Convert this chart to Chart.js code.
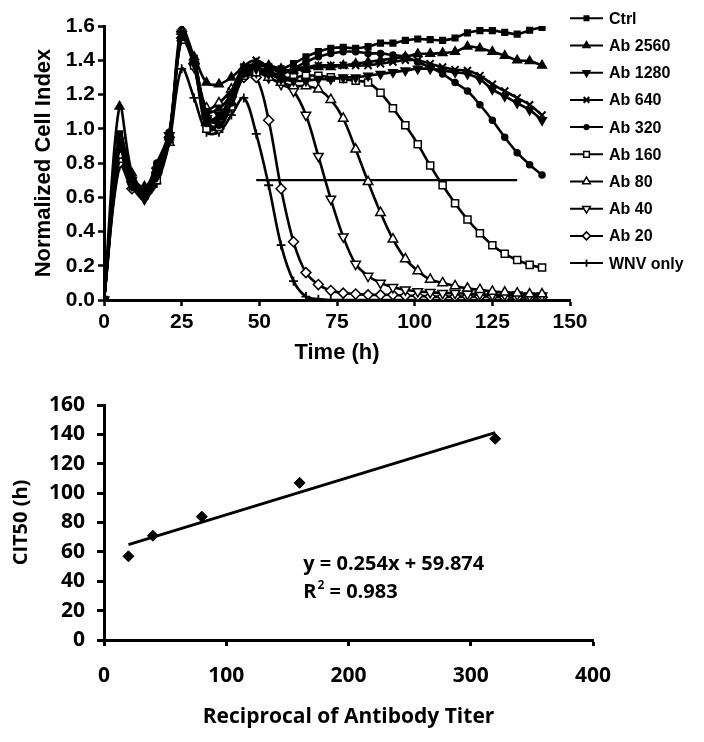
<!DOCTYPE html>
<html>
<head>
<meta charset="utf-8">
<title>Cell index and CIT50</title>
<script src="https://cdn.jsdelivr.net/npm/chart.js@4.4.1/dist/chart.umd.min.js"></script>
<style>
  html, body { margin: 0; padding: 0; background: #fff; }
  #wrap { position: relative; width: 704px; height: 742px; }
  #topChart { position: absolute; left: 0; top: 0; }
  #bottomChart { position: absolute; left: 0; top: 380px; }
</style>
</head>
<body>
<div id="wrap">
  <canvas id="topChart" width="704" height="370"></canvas>
  <canvas id="bottomChart" width="704" height="362"></canvas>
</div>
<script>
// --- top panel: normalized cell index over time ---
const hours = [0, 5, 9, 13, 17, 21, 25, 29, 33, 37, 41, 45, 49, 53, 57, 61, 65, 69, 73, 77,
  81, 85, 89, 93, 97, 101, 105, 109, 113, 117, 121, 125, 129, 133, 137, 141];

const ctrl = [0, 0.97, 0.72, 0.63, 0.78, 0.97, 1.55, 1.40, 1.10, 1.12, 1.20, 1.35, 1.37,
  1.36, 1.35, 1.38, 1.42, 1.45, 1.47, 1.475, 1.47, 1.48, 1.50, 1.50, 1.516, 1.524, 1.52,
  1.516, 1.53, 1.56, 1.573, 1.573, 1.563, 1.553, 1.575, 1.592];
const ab2560 = [0, 1.13, 0.74, 0.65, 0.75, 0.95, 1.53, 1.42, 1.27, 1.26, 1.30, 1.36, 1.38,
  1.37, 1.35, 1.34, 1.35, 1.36, 1.36, 1.37, 1.38, 1.39, 1.40, 1.41, 1.42, 1.437, 1.438,
  1.443, 1.449, 1.48, 1.47, 1.45, 1.427, 1.40, 1.395, 1.37];
const ab1280 = [0, 0.93, 0.70, 0.60, 0.72, 0.93, 1.56, 1.38, 1.05, 1.08, 1.18, 1.33, 1.35,
  1.32, 1.29, 1.28, 1.28, 1.29, 1.29, 1.30, 1.30, 1.31, 1.32, 1.33, 1.34, 1.35, 1.35,
  1.34, 1.33, 1.32, 1.29, 1.23, 1.19, 1.15, 1.11, 1.05];
const ab640 = [0, 0.90, 0.68, 0.62, 0.74, 0.96, 1.60, 1.41, 1.08, 1.05, 1.22, 1.36, 1.40,
  1.36, 1.33, 1.35, 1.36, 1.37, 1.37, 1.37, 1.37, 1.37, 1.38, 1.39, 1.40, 1.40, 1.38,
  1.36, 1.345, 1.34, 1.31, 1.26, 1.22, 1.18, 1.14, 1.08];
const ab320 = [0, 0.88, 0.66, 0.64, 0.80, 0.98, 1.54, 1.39, 1.03, 1.02, 1.15, 1.32, 1.36,
  1.33, 1.32, 1.35, 1.39, 1.42, 1.44, 1.45, 1.45, 1.44, 1.44, 1.43, 1.42, 1.39, 1.36,
  1.32, 1.27, 1.22, 1.14, 1.05, 0.95, 0.86, 0.79, 0.73];
const ab160 = [0, 0.85, 0.69, 0.61, 0.70, 0.94, 1.52, 1.37, 1.00, 1.01, 1.13, 1.31, 1.33,
  1.33, 1.30, 1.30, 1.31, 1.31, 1.30, 1.29, 1.28, 1.27, 1.21, 1.12, 1.02, 0.91, 0.785,
  0.67, 0.565, 0.47, 0.39, 0.32, 0.27, 0.234, 0.205, 0.19];
const ab80 = [0, 0.82, 0.71, 0.66, 0.76, 0.92, 1.57, 1.40, 1.12, 1.15, 1.23, 1.34, 1.36,
  1.30, 1.27, 1.25, 1.25, 1.23, 1.17, 1.06, 0.88, 0.69, 0.51, 0.355, 0.24, 0.17, 0.12,
  0.10, 0.082, 0.068, 0.06, 0.05, 0.045, 0.04, 0.035, 0.035];
const ab40 = [0, 0.86, 0.67, 0.59, 0.73, 0.96, 1.55, 1.36, 1.06, 1.04, 1.17, 1.33, 1.33,
  1.30, 1.26, 1.22, 1.08, 0.84, 0.59, 0.37, 0.21, 0.14, 0.10, 0.074, 0.06, 0.05, 0.045,
  0.04, 0.04, 0.035, 0.035, 0.03, 0.03, 0.03, 0.025, 0.025];
const ab20 = [0, 0.80, 0.65, 0.62, 0.77, 0.95, 1.53, 1.38, 1.02, 1.00, 1.14, 1.30, 1.30,
  1.05, 0.65, 0.34, 0.16, 0.09, 0.055, 0.04, 0.035, 0.03, 0.03, 0.03, 0.025, 0.025, 0.02,
  0.02, 0.02, 0.02, 0.02, 0.02, 0.015, 0.015, 0.015, 0.015];
const wnvOnly = [0, 0.78, 0.68, 0.60, 0.68, 0.92, 1.35, 1.18, 0.98, 0.98, 1.08, 1.18, 0.97,
  0.67, 0.32, 0.11, 0.02, 0.005, 0, 0, 0, 0, 0, 0, 0, 0, 0, 0, 0, 0, 0, 0, 0, 0, 0, 0];

// 50% cell index reference line
const halfLineHours = [49, 133];
const halfLineLevel = 0.7;

// --- bottom panel: CIT50 vs reciprocal titer ---
const titers = [20, 40, 80, 160, 320];
const cit50 = [57, 71, 84, 107, 137];
const fitSlope = 0.254;
const fitIntercept = 59.874;
const fitR2 = 0.983;

const TOP_FONT = "'Liberation Sans', Arial, sans-serif";
const BOTTOM_FONT = "'Open Sans', 'Noto Sans', sans-serif";

function makeSeries(label, values, pointStyle, fill, extra) {
  return Object.assign({
    label: label,
    data: hours.map((h, i) => ({ x: h, y: values[i] })),
    borderColor: '#000',
    borderWidth: 2.6,
    tension: 0.35,
    pointStyle: pointStyle,
    pointRadius: 4.5,
    pointBackgroundColor: fill,
    pointBorderColor: '#000',
    pointBorderWidth: 1.5,
    pointRotation: 0
  }, extra || {});
}

// legend drawn as "line with marker" like the original
const lineLegend = {
  id: 'lineLegend',
  afterDraw(chart, args, opts) {
    const ctx = chart.ctx;
    const drawPoint = Chart.helpers.drawPoint;
    let row = 0;
    ctx.save();
    chart.data.datasets.forEach(ds => {
      if (!ds.label) return;
      const y = opts.top + row * opts.step;
      ctx.strokeStyle = '#000';
      ctx.lineWidth = 2;
      ctx.beginPath();
      ctx.moveTo(opts.left, y);
      ctx.lineTo(opts.left + opts.lineLen, y);
      ctx.stroke();
      ctx.fillStyle = ds.pointBackgroundColor;
      ctx.strokeStyle = '#000';
      ctx.lineWidth = ds.pointBorderWidth;
      drawPoint(ctx, {
        pointStyle: ds.pointStyle,
        radius: ds.pointRadius * 0.8,
        rotation: ds.pointRotation,
        borderWidth: ds.pointBorderWidth
      }, opts.left + opts.lineLen / 2, y);
      ctx.fillStyle = '#000';
      ctx.font = opts.font;
      ctx.textBaseline = 'middle';
      ctx.textAlign = 'left';
      ctx.fillText(ds.label, opts.textX, y + 1);
      row++;
    });
    ctx.restore();
  }
};

new Chart(document.getElementById('topChart'), {
  type: 'line',
  data: {
    datasets: [
      makeSeries('Ctrl', ctrl, 'rect', '#000', { pointRadius: 4 }),
      makeSeries('Ab 2560', ab2560, 'triangle', '#000', { pointRadius: 5 }),
      makeSeries('Ab 1280', ab1280, 'triangle', '#000', { pointRadius: 5, pointRotation: 180 }),
      makeSeries('Ab 640', ab640, 'crossRot', '#000', { pointRadius: 5, pointBorderWidth: 2 }),
      makeSeries('Ab 320', ab320, 'circle', '#000', { pointRadius: 3 }),
      makeSeries('Ab 160', ab160, 'rect', '#fff', { pointRadius: 5 }),
      makeSeries('Ab 80', ab80, 'triangle', '#fff', { pointRadius: 5.5 }),
      makeSeries('Ab 40', ab40, 'triangle', '#fff', { pointRadius: 5.5, pointRotation: 180 }),
      makeSeries('Ab 20', ab20, 'rectRot', '#fff', { pointRadius: 5 }),
      makeSeries('WNV only', wnvOnly, 'cross', '#000', { pointRadius: 4.5, pointBorderWidth: 1.8 }),
      {
        label: '',
        data: halfLineHours.map(h => ({ x: h, y: halfLineLevel })),
        borderColor: '#000',
        borderWidth: 2.2,
        pointRadius: 0,
        tension: 0
      }
    ]
  },
  options: {
    responsive: false,
    animation: false,
    events: [],
    layout: { padding: { top: 26, right: 134, left: 0, bottom: 0 } },
    plugins: {
      legend: { display: false },
      tooltip: { enabled: false },
      lineLegend: {
        left: 570, lineLen: 33, textX: 609, top: 18.3, step: 27.2,
        font: 'bold 16px ' + TOP_FONT
      }
    },
    scales: {
      x: {
        type: 'linear',
        min: 0,
        max: 150,
        ticks: {
          stepSize: 25, color: '#000', padding: 4, maxRotation: 0,
          font: { family: TOP_FONT, size: 21, weight: 'bold' }
        },
        grid: { drawOnChartArea: false, tickLength: 6, tickColor: '#000', tickWidth: 2.5 },
        border: { color: '#000', width: 3 },
        title: {
          display: true, text: 'Time (h)', color: '#000',
          font: { family: TOP_FONT, size: 22, weight: 'bold' },
          padding: { top: 0, bottom: 4 }
        },
        afterFit: s => { s.height = 70; }
      },
      y: {
        min: 0,
        max: 1.6,
        ticks: {
          stepSize: 0.2, color: '#000', padding: 3,
          font: { family: TOP_FONT, size: 21, weight: 'bold' },
          callback: v => v.toFixed(1)
        },
        grid: { drawOnChartArea: false, tickLength: 6, tickColor: '#000', tickWidth: 2.5 },
        border: { color: '#000', width: 3 },
        title: {
          display: true, text: 'Normalized Cell Index', color: '#000',
          font: { family: TOP_FONT, size: 22, weight: 'bold' },
          padding: { top: 31, bottom: 0 }
        },
        afterFit: s => { s.width = 104; }
      }
    }
  },
  plugins: [lineLegend]
});

// regression equation written inside the plot
const equationText = {
  id: 'equationText',
  afterDraw(chart, args, opts) {
    const ctx = chart.ctx;
    const xs = chart.scales.x, ys = chart.scales.y;
    const x = xs.getPixelForValue(opts.at[0]);
    const y1 = ys.getPixelForValue(opts.at[1]);
    const y2 = ys.getPixelForValue(opts.at[2]);
    ctx.save();
    ctx.fillStyle = '#000';
    ctx.textBaseline = 'middle';
    ctx.textAlign = 'left';
    ctx.font = opts.font;
    ctx.fillText('y = ' + fitSlope.toFixed(3) + 'x + ' + fitIntercept.toFixed(3), x, y1);
    ctx.fillText('R', x, y2);
    const wR = ctx.measureText('R').width;
    ctx.font = opts.supFont;
    ctx.fillText('2', x + wR + 1, y2 - 7);
    const w2 = ctx.measureText('2').width;
    ctx.font = opts.font;
    ctx.fillText(' = ' + fitR2.toFixed(3), x + wR + w2 + 1, y2);
    ctx.restore();
  }
};

const fitRange = [Math.min(...titers), Math.max(...titers)];

new Chart(document.getElementById('bottomChart'), {
  type: 'scatter',
  data: {
    datasets: [
      {
        type: 'line',
        label: 'Linear fit',
        data: fitRange.map(t => ({ x: t, y: fitSlope * t + fitIntercept })),
        borderColor: '#000',
        borderWidth: 2.8,
        pointRadius: 0,
        tension: 0
      },
      {
        label: 'CIT50',
        data: titers.map((t, i) => ({ x: t, y: cit50[i] })),
        pointStyle: 'rectRot',
        pointRadius: 5.5,
        backgroundColor: '#000',
        borderColor: '#000',
        borderWidth: 1
      }
    ]
  },
  options: {
    responsive: false,
    animation: false,
    events: [],
    layout: { padding: { top: 25, right: 111, left: 0, bottom: 0 } },
    plugins: {
      legend: { display: false },
      tooltip: { enabled: false },
      equationText: {
        at: [163, 51.7, 32.5],
        font: 'bold 20px ' + BOTTOM_FONT,
        supFont: 'bold 12px ' + BOTTOM_FONT
      }
    },
    scales: {
      x: {
        type: 'linear',
        min: 0,
        max: 400,
        ticks: {
          stepSize: 100, color: '#000', padding: 17, maxRotation: 0,
          font: { family: BOTTOM_FONT, size: 21, weight: 'bold' }
        },
        grid: { drawOnChartArea: false, tickLength: 6, tickColor: '#000', tickWidth: 3 },
        border: { color: '#000', width: 3 },
        title: {
          display: true, text: 'Reciprocal of Antibody Titer', color: '#000',
          font: { family: BOTTOM_FONT, size: 21, weight: 'bold' },
          padding: { top: 0, bottom: 12 }
        },
        afterFit: s => { s.height = 102; }
      },
      y: {
        min: 0,
        max: 160,
        ticks: {
          stepSize: 20, color: '#000', padding: 12,
          font: { family: BOTTOM_FONT, size: 21, weight: 'bold' }
        },
        grid: { drawOnChartArea: false, tickLength: 7, tickColor: '#000', tickWidth: 3 },
        border: { color: '#000', width: 3 },
        title: {
          display: true, text: 'CIT50 (h)', color: '#000',
          font: { family: BOTTOM_FONT, size: 20, weight: 'bold' },
          padding: { top: 9, bottom: 0 }
        },
        afterFit: s => { s.width = 104; }
      }
    }
  },
  plugins: [equationText]
});
</script>
</body>
</html>
